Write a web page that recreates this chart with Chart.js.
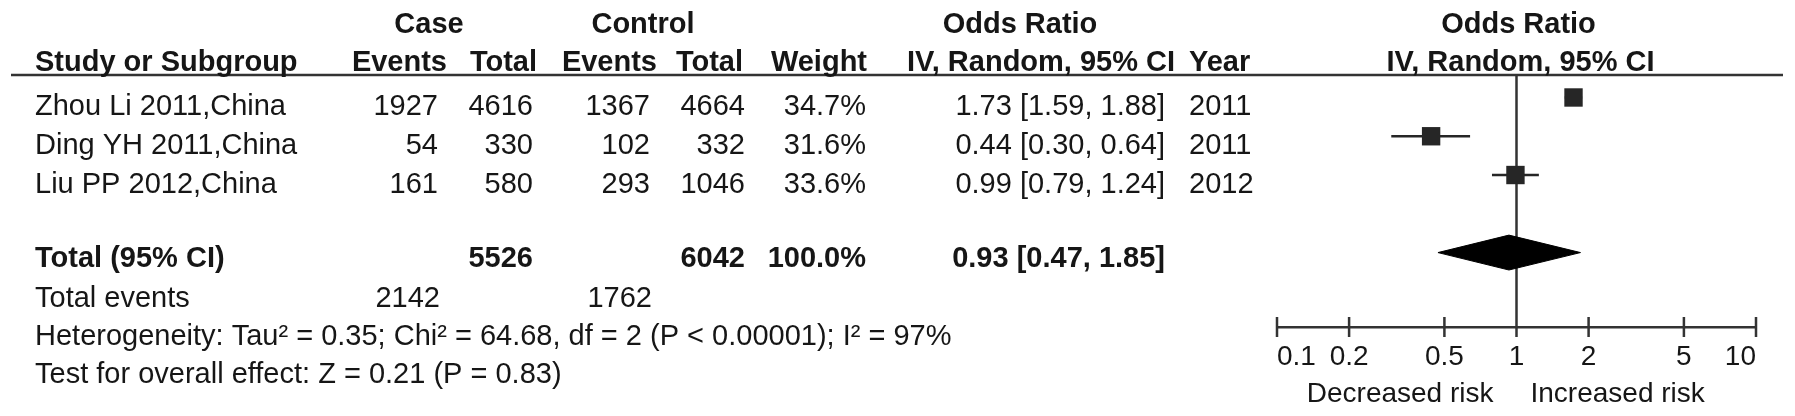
<!DOCTYPE html>
<html>
<head>
<meta charset="utf-8">
<title>Forest plot</title>
<script src="https://cdn.jsdelivr.net/npm/chart.js@4.4.1/dist/chart.umd.min.js"></script>
<style>
  html, body { margin: 0; padding: 0; background: #fff; }
  canvas { display: block; }
</style>
</head>
<body>
<canvas id="forest" width="1795" height="416"></canvas>
<script>
// Study data
const studies = ['Zhou Li 2011,China', 'Ding YH 2011,China', 'Liu PP 2012,China'];
const caseEvents = [1927, 54, 161];
const caseTotal = [4616, 330, 580];
const controlEvents = [1367, 102, 293];
const controlTotal = [4664, 332, 1046];
const weights = [34.7, 31.6, 33.6];
const oddsRatio = [1.73, 0.44, 0.99];
const ciLow = [1.59, 0.30, 0.79];
const ciHigh = [1.88, 0.64, 1.24];
const years = [2011, 2011, 2012];

// Pooled estimate: estimate, low, high
const pooled = [0.93, 0.47, 1.85];
const pooledWeight = 100.0;

// Axis
const tickValues = [0.1, 0.2, 0.5, 1, 2, 5, 10];
const axisLabels = ['Decreased risk', 'Increased risk'];

const heterogeneityText = 'Heterogeneity: Tau² = 0.35; Chi² = 64.68, df = 2 (P < 0.00001); I² = 97%';
const overallText = 'Test for overall effect: Z = 0.21 (P = 0.83)';

const FONT = "'Liberation Sans', Arial, Helvetica, sans-serif";
const TEXT = '#161616';
const LINE = '#333333';
const MARK = '#262626';

const sum = arr => arr.reduce((a, b) => a + b, 0);
const ciText = (e, l, h) => `${e.toFixed(2)} [${l.toFixed(2)}, ${h.toFixed(2)}]`;
const pooledRow = studies.length + 1;

function txt(ctx, s, x, y, align, bold, size) {
    ctx.font = (bold ? 'bold ' : '') + (size || 29) + 'px ' + FONT;
    ctx.textAlign = align;
    ctx.fillText(String(s), x, y);
}

// Table text, header rule, line of no effect and axis ticks
const forestTable = {
    id: 'forestTable',
    beforeDatasetsDraw(chart) {
        const { ctx, chartArea, scales: { x } } = chart;
        const x1 = x.getPixelForValue(1);
        ctx.save();
        ctx.strokeStyle = LINE;
        ctx.lineWidth = 2.5;
        ctx.beginPath();
        ctx.moveTo(11, chartArea.top);
        ctx.lineTo(1783, chartArea.top);
        ctx.moveTo(x1, chartArea.top);
        ctx.lineTo(x1, chartArea.bottom);
        x.ticks.forEach(t => {
            const px = x.getPixelForValue(t.value);
            ctx.moveTo(px, x.top - 10);
            ctx.lineTo(px, x.top + 10);
        });
        ctx.stroke();
        ctx.restore();
    },
    afterDraw(chart) {
        const { ctx, scales: { x } } = chart;
        const x1 = x.getPixelForValue(1);
        ctx.save();
        ctx.fillStyle = TEXT;
        ctx.textBaseline = 'alphabetic';

        // header rows
        txt(ctx, 'Case', 429, 33, 'center', true);
        txt(ctx, 'Control', 643, 33, 'center', true);
        txt(ctx, 'Odds Ratio', 1020, 33, 'center', true);
        txt(ctx, 'Odds Ratio', x1 + 2, 33, 'center', true);
        txt(ctx, 'Study or Subgroup', 35, 71, 'left', true);
        txt(ctx, 'Events', 447, 71, 'right', true);
        txt(ctx, 'Total', 537, 71, 'right', true);
        txt(ctx, 'Events', 657, 71, 'right', true);
        txt(ctx, 'Total', 743, 71, 'right', true);
        txt(ctx, 'Weight', 867, 71, 'right', true);
        txt(ctx, 'IV, Random, 95% CI', 907, 71, 'left', true);
        txt(ctx, 'Year', 1189, 71, 'left', true);
        txt(ctx, 'IV, Random, 95% CI', x1 + 4, 71, 'center', true);

        // study rows
        const rowY = [115, 154, 193];
        studies.forEach((s, i) => {
            const y = rowY[i];
            txt(ctx, s, 35, y, 'left');
            txt(ctx, caseEvents[i], 438, y, 'right');
            txt(ctx, caseTotal[i], 533, y, 'right');
            txt(ctx, controlEvents[i], 650, y, 'right');
            txt(ctx, controlTotal[i], 745, y, 'right');
            txt(ctx, weights[i].toFixed(1) + '%', 866, y, 'right');
            txt(ctx, ciText(oddsRatio[i], ciLow[i], ciHigh[i]), 1165, y, 'right');
            txt(ctx, years[i], 1189, y, 'left');
        });

        // totals
        txt(ctx, 'Total (95% CI)', 35, 267, 'left', true);
        txt(ctx, sum(caseTotal), 533, 267, 'right', true);
        txt(ctx, sum(controlTotal), 745, 267, 'right', true);
        txt(ctx, pooledWeight.toFixed(1) + '%', 866, 267, 'right', true);
        txt(ctx, ciText(pooled[0], pooled[1], pooled[2]), 1165, 267, 'right', true);
        txt(ctx, 'Total events', 35, 307, 'left');
        txt(ctx, sum(caseEvents), 440, 307, 'right');
        txt(ctx, sum(controlEvents), 652, 307, 'right');
        txt(ctx, heterogeneityText, 35, 345, 'left');
        txt(ctx, overallText, 35, 383, 'left');

        // axis captions
        txt(ctx, axisLabels[0], x1 - 23, 402, 'right', false, 28);
        txt(ctx, axisLabels[1], x1 + 14, 402, 'left', false, 28);
        ctx.restore();
    }
};

const whiskers = studies.map((s, i) => ({
    data: [{ x: ciLow[i], y: i }, { x: ciHigh[i], y: i }],
    showLine: true,
    borderColor: MARK,
    borderWidth: 2.5,
    pointRadius: 0,
    order: 2
}));

const diamond = {
    data: [
        { x: pooled[1], y: pooledRow },
        { x: pooled[0], y: pooledRow - 0.45 },
        { x: pooled[2], y: pooledRow },
        { x: pooled[0], y: pooledRow + 0.45 },
        { x: pooled[1], y: pooledRow }
    ],
    showLine: true,
    fill: 'shape',
    backgroundColor: '#000',
    borderColor: '#000',
    borderWidth: 1,
    pointRadius: 0,
    order: 2
};

const squares = {
    data: studies.map((s, i) => ({ x: oddsRatio[i], y: i })),
    pointStyle: 'rect',
    pointRadius: 13,
    backgroundColor: MARK,
    borderWidth: 0,
    order: 0
};

const ctx = document.getElementById('forest').getContext('2d');
new Chart(ctx, {
    type: 'scatter',
    data: { datasets: [...whiskers, diamond, squares] },
    options: {
        responsive: false,
        animation: false,
        devicePixelRatio: 1,
        events: [],
        layout: { padding: { left: 1277, right: 39, top: 75, bottom: 39 } },
        plugins: {
            legend: { display: false },
            tooltip: { enabled: false }
        },
        scales: {
            x: {
                type: 'logarithmic',
                min: 0.1,
                max: 10,
                afterBuildTicks: scale => {
                    scale.ticks = tickValues.map(v => ({ value: v }));
                },
                afterFit: scale => {
                    scale.height = 50;
                },
                grid: { display: false, drawTicks: false },
                border: { display: true, color: LINE, width: 2.5 },
                ticks: {
                    align: 'inner',
                    padding: 13,
                    color: TEXT,
                    autoSkip: false,
                    maxRotation: 0,
                    font: { family: FONT, size: 28 },
                    callback: v => String(v)
                }
            },
            y: {
                type: 'linear',
                display: false,
                reverse: true,
                min: -0.58,
                max: 5.92
            }
        }
    },
    plugins: [forestTable]
});
</script>
</body>
</html>
